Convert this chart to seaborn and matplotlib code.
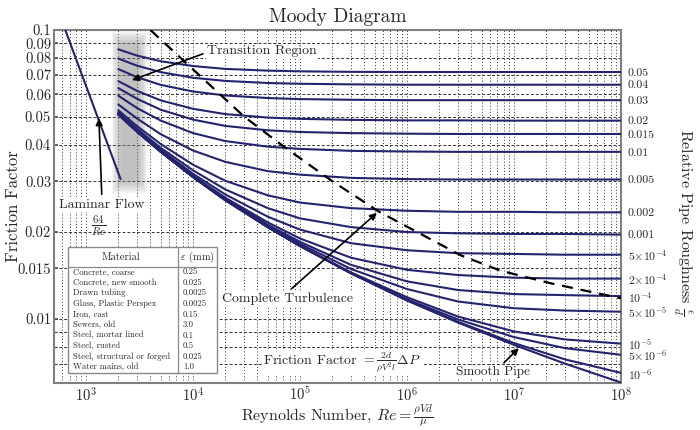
"""
Moody diagram: friction factor vs Reynolds number for a set of relative roughness values
"""

import matplotlib
matplotlib.use("Agg")
import matplotlib.pyplot as plt
import seaborn as sns
import numpy as np
import pandas as pd
from matplotlib.ticker import NullFormatter, NullLocator, LogLocator
from matplotlib.patches import Rectangle

# Style
sns.set_theme(style="white")
plt.rcParams['font.family'] = ['cmr10', 'DejaVu Serif']
plt.rcParams['mathtext.fontset'] = 'cm'
plt.rcParams['axes.formatter.use_mathtext'] = True
plt.rcParams['axes.unicode_minus'] = False

navy = '#24246e'

# ---- data ----
re_points = [2e3, 3e3, 5e3, 1e4, 2e4, 5e4, 1e5, 3e5, 1e6, 3e6, 1e7, 3e7, 1e8]

f_0_05 = [0.0858, 0.0816, 0.0780, 0.0751, 0.0734, 0.0724, 0.0720, 0.0717, 0.0716, 0.0716, 0.0716, 0.0716, 0.0716]
f_0_04 = [0.0797, 0.0753, 0.0715, 0.0684, 0.0667, 0.0656, 0.0652, 0.0649, 0.0647, 0.0647, 0.0647, 0.0647, 0.0647]
f_0_03 = [0.0733, 0.0687, 0.0646, 0.0613, 0.0594, 0.0582, 0.0577, 0.0574, 0.0572, 0.0572, 0.0572, 0.0572, 0.0572]
f_0_02 = [0.0666, 0.0616, 0.0571, 0.0534, 0.0512, 0.0498, 0.0493, 0.0489, 0.0487, 0.0487, 0.0486, 0.0486, 0.0486]
f_0_015 = [0.0630, 0.0578, 0.0530, 0.0490, 0.0466, 0.0450, 0.0444, 0.0440, 0.0438, 0.0437, 0.0437, 0.0437, 0.0437]
f_0_01 = [0.0593, 0.0537, 0.0486, 0.0440, 0.0413, 0.0395, 0.0388, 0.0382, 0.0380, 0.0379, 0.0379, 0.0379, 0.0379]
f_0_005 = [0.0553, 0.0494, 0.0436, 0.0383, 0.0350, 0.0325, 0.0316, 0.0308, 0.0305, 0.0304, 0.0304, 0.0304, 0.0304]
f_0_002 = [0.0528, 0.0465, 0.0403, 0.0342, 0.0301, 0.0268, 0.0253, 0.0242, 0.0237, 0.0235, 0.0235, 0.0234, 0.0234]
f_0_001 = [0.0520, 0.0455, 0.0391, 0.0327, 0.0281, 0.0242, 0.0223, 0.0208, 0.0200, 0.0198, 0.0197, 0.0197, 0.0196]
f_5e_4 = [0.0515, 0.0450, 0.0385, 0.0318, 0.0270, 0.0226, 0.0204, 0.0183, 0.0173, 0.0169, 0.0168, 0.0167, 0.0167]
f_2e_4 = [0.0513, 0.0447, 0.0381, 0.0313, 0.0263, 0.0216, 0.0190, 0.0163, 0.0148, 0.0142, 0.0139, 0.0138, 0.0138]
f_1e_4 = [0.0512, 0.0446, 0.0380, 0.0312, 0.0261, 0.0212, 0.0185, 0.0154, 0.0135, 0.0126, 0.0122, 0.0121, 0.0120]
f_5e_5 = [0.0511, 0.0445, 0.0379, 0.0311, 0.0259, 0.0210, 0.0182, 0.0149, 0.0127, 0.0115, 0.0109, 0.0107, 0.0106]
f_1e_5 = [0.0511, 0.0445, 0.0379, 0.0310, 0.0258, 0.0208, 0.0179, 0.0145, 0.0119, 0.0102, 0.00906, 0.00850, 0.00822]
f_5e_6 = [0.0511, 0.0445, 0.0379, 0.0310, 0.0258, 0.0208, 0.0179, 0.0144, 0.0117, 0.00997, 0.00866, 0.00793, 0.00752]
f_1e_6 = [0.0511, 0.0445, 0.0379, 0.0310, 0.0258, 0.0208, 0.0179, 0.0144, 0.0116, 0.00978, 0.00826, 0.00725, 0.00651]
f_smooth = [0.0511, 0.0445, 0.0379, 0.0310, 0.0258, 0.0208, 0.0179, 0.0144, 0.0116, 0.00972, 0.00814, 0.00701, 0.00603]

roughness_labels = ['0.05', '0.04', '0.03', '0.02', '0.015', '0.01', '0.005', '0.002', '0.001',
                    r'$5{\times}10^{-4}$', r'$2{\times}10^{-4}$', r'$10^{-4}$', r'$5{\times}10^{-5}$',
                    r'$10^{-5}$', r'$5{\times}10^{-6}$', r'$10^{-6}$', 'smooth']
curves = [f_0_05, f_0_04, f_0_03, f_0_02, f_0_015, f_0_01, f_0_005, f_0_002, f_0_001,
          f_5e_4, f_2e_4, f_1e_4, f_5e_5, f_1e_5, f_5e_6, f_1e_6, f_smooth]

laminar_re = [640, 2100]
laminar_f = [0.1, 0.0305]

# boundary of complete turbulence (dashed)
boundary_re = [4.0e3, 3.0e4, 7.0e4, 2.0e5, 5.5e5, 3.2e6, 7.5e6, 2.2e7, 1.0e8]
boundary_f = [0.100, 0.0502, 0.0396, 0.0300, 0.0235, 0.0166, 0.0147, 0.0133, 0.0118]

transition_re = [2100, 3100]
transition_f = [0.030, 0.090]

materials = ['Concrete, coarse', 'Concrete, new smooth', 'Drawn tubing', 'Glass, Plastic Perspex',
             'Iron, cast', 'Sewers, old', 'Steel, mortar lined', 'Steel, rusted',
             'Steel, structural or forged', 'Water mains, old']
eps_mm = ['0.25', '0.025', '0.0025', '0.0025', '0.15', '3.0', '0.1', '0.5', '0.025', '1.0']

y_ticks = [0.01, 0.015, 0.02, 0.03, 0.04, 0.05, 0.06, 0.07, 0.08, 0.09, 0.1]
y_ticklabels = ['0.01', '0.015', '0.02', '0.03', '0.04', '0.05', '0.06', '0.07', '0.08', '0.09', '0.1']
x_ticks = [1e3, 1e4, 1e5, 1e6, 1e7, 1e8]
x_ticklabels = [r'$10^{3}$', r'$10^{4}$', r'$10^{5}$', r'$10^{6}$', r'$10^{7}$', r'$10^{8}$']

# long table for seaborn
df = pd.DataFrame({
    'Re': np.tile(re_points, len(curves)),
    'f': np.concatenate(curves),
    'roughness': np.repeat(roughness_labels, len(re_points)),
})

fig = plt.figure(figsize=(7, 4.3), dpi=100)
ax = fig.add_axes([0.077, 0.109, 0.81, 0.821])

# transition region: soft gray band
for k in range(8):
    sx = 10 ** (0.012 * k)
    sy = 10 ** (0.006 * k)
    ax.fill_between([transition_re[0] / sx, transition_re[1] * sx],
                    transition_f[0] / sy, transition_f[1] * sy,
                    color='#808080', alpha=0.075, lw=0, zorder=1.5)

sns.lineplot(data=df, x='Re', y='f', units='roughness', estimator=None, sort=False,
             color=navy, lw=1.5, ax=ax, legend=False, zorder=3)
sns.lineplot(x=laminar_re, y=laminar_f, color=navy, lw=1.5, ax=ax, zorder=3)
sns.lineplot(x=boundary_re, y=boundary_f, color='black', lw=1.6, ax=ax,
             linestyle=(0, (5, 3.5)), zorder=3)

ax.set_xscale('log')
ax.set_yscale('log')
ax.set_xlim(500, 1e8)
ax.set_ylim(0.006, 0.1)

ax.set_xticks(x_ticks)
ax.set_xticklabels(x_ticklabels, fontsize=10.5)
ax.xaxis.set_minor_locator(LogLocator(base=10, subs=np.arange(2, 10)))
ax.xaxis.set_minor_formatter(NullFormatter())
ax.set_yticks(y_ticks)
ax.set_yticklabels(y_ticklabels, fontsize=10.5)
ax.set_yticks([0.007, 0.008, 0.009], minor=True)
ax.yaxis.set_minor_formatter(NullFormatter())

ax.grid(which='both', axis='x', ls=(0, (1, 2.2)), color='#333333', lw=0.7)
ax.grid(which='both', axis='y', ls=(0, (3, 2)), color='#333333', lw=0.7)
ax.set_axisbelow(True)
ax.tick_params(which='both', direction='in', length=3, color='#555555')
ax.tick_params(axis='y', pad=2)
ax.tick_params(axis='x', pad=2)
ax.tick_params(which='minor', length=2)
for sp in ax.spines.values():
    sp.set_color('#808080')
    sp.set_linewidth(1.5)

ax.set_title('Moody Diagram', fontsize=14, pad=6)
ax.set_xlabel(r'Reynolds Number, $Re = \frac{\rho V d}{\mu}$', fontsize=11.5)
ax.xaxis.set_label_coords(0.5, -0.054)
ax.set_ylabel('Friction Factor', fontsize=12)
ax.yaxis.set_label_coords(-0.058, 0.5)

# right axis: roughness labels at the curve ends
ax2 = ax.twinx()
ax2.set_yscale('log')
ax2.set_ylim(ax.get_ylim())
ends = [c[-1] for c in curves[:-1]]
ax2.set_yticks(ends)
ax2.set_yticklabels(roughness_labels[:-1], fontsize=8.5)
ax2.yaxis.set_minor_locator(NullLocator())
ax2.tick_params(length=0, pad=5)
for sp in ax2.spines.values():
    sp.set_visible(False)
ax2.set_ylabel(r'Relative Pipe Roughness $\frac{\epsilon}{d}$', fontsize=11.5, rotation=270)
ax2.yaxis.set_label_coords(1.128, 0.456)

# annotations
arrow = dict(arrowstyle='-|>', color='black', lw=1.2, mutation_scale=10, shrinkA=2, shrinkB=0)
white = dict(boxstyle='square,pad=0.1', fc='white', ec='none')

ax.annotate('Transition Region', xy=(2680, 0.0671), xytext=(13500, 0.0846),
            ha='left', va='center', fontsize=10, zorder=6,
            bbox=white, arrowprops=dict(arrow, relpos=(0, 0.4)))
ax.annotate('Laminar Flow', xy=(1317, 0.0496), xytext=(1405, 0.0249),
            ha='center', va='center', fontsize=10, zorder=6,
            bbox=white, arrowprops=dict(arrow, relpos=(0.5, 1)))
ax.text(1300, 0.0211, r'$\frac{64}{Re}$', ha='center', va='center', fontsize=11, zorder=6)
ax.annotate('Complete Turbulence', xy=(5.23e5, 0.0233), xytext=(7.7e4, 0.0118),
            ha='center', va='center', fontsize=10, zorder=6,
            bbox=white, arrowprops=dict(arrow, relpos=(0.5, 1)))
ax.text(2.46e5, 0.0071, r'Friction Factor $= \frac{2d}{\rho V^2 l}\Delta P$',
        ha='center', va='center', fontsize=10, zorder=6, bbox=white)
ax.annotate('Smooth Pipe', xy=(1.11e7, 0.00793), xytext=(6.4e6, 0.00655),
            ha='center', va='center', fontsize=9.5, zorder=6,
            bbox=white, arrowprops=dict(arrow, relpos=(0.6, 1)))

# material table
tx0, tx1, tdiv = 0.0247, 0.2875, 0.2187
ty0, ty1, thead = 0.0283, 0.3853, 0.3286
ax.add_patch(Rectangle((tx0, ty0), tx1 - tx0, ty1 - ty0, transform=ax.transAxes,
                       fc='white', ec='#8a8a8a', lw=1.0, zorder=7))
ax.plot([tdiv, tdiv], [ty0, ty1], transform=ax.transAxes, color='#8a8a8a', lw=0.9, zorder=8)
ax.plot([tx0, tx1], [thead, thead], transform=ax.transAxes, color='#8a8a8a', lw=0.9, zorder=8)
ax.text(0.118, 0.357, 'Material', transform=ax.transAxes, ha='center', va='center',
        fontsize=7.5, zorder=9)
ax.text(0.253, 0.357, r'$\varepsilon$ (mm)', transform=ax.transAxes, ha='center', va='center',
        fontsize=7.5, zorder=9)
for i, (m, e) in enumerate(zip(materials, eps_mm)):
    yy = 0.3144 - i * 0.0299
    ax.text(0.0335, yy, m, transform=ax.transAxes, ha='left', va='center', fontsize=6.2, zorder=9)
    ax.text(0.2275, yy, e, transform=ax.transAxes, ha='left', va='center', fontsize=6.2, zorder=9)

fig.savefig('out.png', dpi=100)
